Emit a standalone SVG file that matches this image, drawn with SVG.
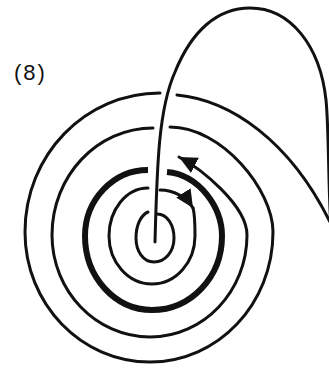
<svg xmlns="http://www.w3.org/2000/svg" width="329" height="368" viewBox="0 0 329 368">
  <style>
    .ln { fill: none; stroke: #111; stroke-width: 3; stroke-linecap: round; stroke-linejoin: round; }
    .thick { fill: none; stroke: #111; stroke-width: 6; stroke-linecap: butt; }
    .lbl { font-family: "Liberation Sans", Arial, sans-serif; font-size: 22px; fill: #111; letter-spacing: 2px; }
  </style>
  <defs>
    <marker id="ah" markerUnits="userSpaceOnUse" markerWidth="19" markerHeight="18" refX="18" refY="8.5" orient="auto">
      <path d="M0,0 L18,8.5 L0,17 Z" fill="#111"/>
    </marker>
  </defs>
  <rect width="329" height="368" fill="#fff"/>

  <g id="label">
    <text class="lbl" x="14" y="80">(8)</text>
  </g>

  <g id="rings">
    <g id="ring-outer">
      <path class="ln" d="M160,93 C85,93 25,155 25,232 C25,304 81,362 150,362 C218,362 273,304 273,232 C273,190 222,127 170,127"/>
    </g>
    <g id="ring-2">
      <path class="ln" marker-end="url(#ah)" d="M153,128 C97,128 52,176 52,235 C52,291 96,337 150,337 C204,337 247,291 247,235 C247,205 200,168 179,157"/>
    </g>
    <g id="ring-thick">
      <path class="thick" d="M148,170 C113,170 85,200 85,236 C85,277 115,310 152,310 C191,310 222,277 222,236 C222,208 200,175 167,172"/>
    </g>
    <g id="ring-4">
      <path class="ln" marker-end="url(#ah)" d="M160,190 C174,190 186,197 193,208"/>
      <path class="ln" d="M193,208 C195,215 195,226 195,236 C195,262 176,284 152,284 C128,284 109,262 109,236 C109,210 126,188 148,188"/>
    </g>
    <g id="ring-inner">
      <path class="ln" d="M157,214 C168,214 174,226 174,238 C174,252 165,262 154,262 C143,262 136,251 136,238 C136,225 141,215 148,212"/>
    </g>
  </g>

  <g id="connectors">
    <path class="ln" d="M155,242 C157,170 158,110 175,72 C192,30 218,8 250,8 C290,8 320,45 326,100 C329,130 328,180 331,230"/>
    <path class="ln" d="M177,95 C230,100 290,140 331,224"/>
  </g>
</svg>
